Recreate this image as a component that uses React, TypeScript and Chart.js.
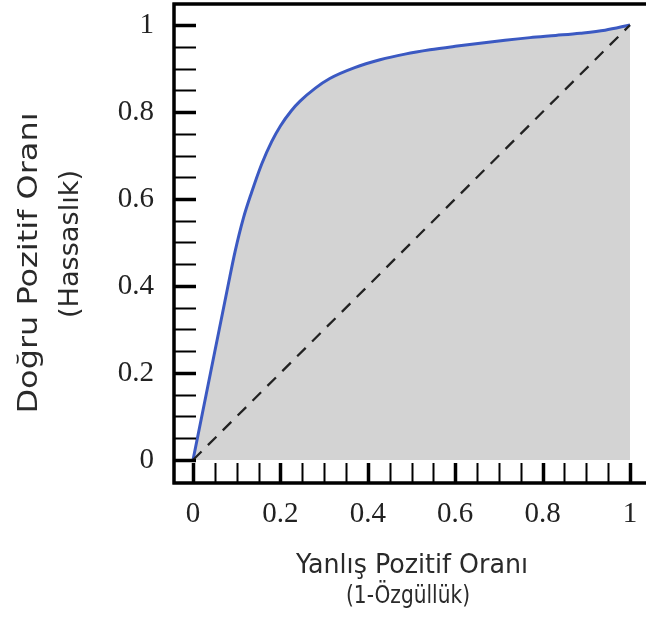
import React, { useEffect, useRef } from "react";
import { Chart, registerables } from "chart.js";

Chart.register(...registerables);

// ROC curve: false positive rate vs. true positive rate
const fpr = [0, 0.02, 0.04, 0.06, 0.08, 0.096, 0.115, 0.134, 0.157, 0.18, 0.2, 0.225, 0.245, 0.28, 0.313, 0.37, 0.428, 0.485, 0.542, 0.6, 0.657, 0.714, 0.771, 0.83, 0.886, 0.943, 1.0];
const tpr = [0, 0.1, 0.2, 0.3, 0.4, 0.478, 0.555, 0.615, 0.68, 0.732, 0.768, 0.803, 0.825, 0.855, 0.877, 0.902, 0.92, 0.933, 0.943, 0.951, 0.958, 0.965, 0.971, 0.976, 0.981, 0.988, 1.0];

// Chance line
const chanceX = [0, 1];
const chanceY = [0, 1];

// Labelled ticks and minor tick spacing
const tickValues = [0, 0.2, 0.4, 0.6, 0.8, 1];
const minorStep = 0.05;

const xTitle = ["Yanlış Pozitif Oranı", "(1-Özgüllük)"];
const yTitle = ["Doğru Pozitif Oranı", "(Hassaslık)"];

const INK = "#222222";

function drawFitted(
  ctx: CanvasRenderingContext2D,
  text: string,
  size: number,
  cx: number,
  cy: number,
  width: number,
  rotation: number
) {
  ctx.save();
  ctx.font = `${size}px "DejaVu Sans"`;
  ctx.fillStyle = "#2a2a2a";
  ctx.translate(cx, cy);
  ctx.rotate(rotation);
  const w = ctx.measureText(text).width;
  ctx.scale(width / w, 1);
  ctx.textAlign = "center";
  ctx.textBaseline = "alphabetic";
  ctx.fillText(text, 0, 0);
  ctx.restore();
}

const framePlugin = {
  id: "rocFrame",
  afterDatasetsDraw(chart: any) {
    const { ctx, chartArea } = chart;
    const xs = chart.scales.x;
    const ys = chart.scales.y;
    const { left, right, top, bottom } = chartArea;
    ctx.save();
    ctx.strokeStyle = "#000";
    ctx.lineCap = "butt";

    // inward ticks every 0.05, heavier at labelled values
    const n = Math.round(1 / minorStep);
    for (let i = 0; i <= n; i++) {
      const v = i * minorStep;
      const major = i % 4 === 0;
      ctx.lineWidth = major ? 3.5 : 2;
      const py = Math.round(ys.getPixelForValue(v)) + 0.5;
      ctx.beginPath();
      ctx.moveTo(left, py);
      ctx.lineTo(left + 22, py);
      ctx.stroke();
      const px = Math.round(xs.getPixelForValue(v)) + 0.5;
      ctx.beginPath();
      ctx.moveTo(px, bottom);
      ctx.lineTo(px, bottom - 20);
      ctx.stroke();
    }

    // axis lines and top border
    ctx.lineWidth = 3.5;
    ctx.beginPath();
    ctx.moveTo(left, top - 1.5);
    ctx.lineTo(left, bottom + 1.5);
    ctx.moveTo(left - 1.5, bottom);
    ctx.lineTo(right, bottom);
    ctx.moveTo(left - 1.5, top);
    ctx.lineTo(right, top);
    ctx.stroke();
    ctx.restore();

    // axis titles
    drawFitted(ctx, xTitle[0], 27, 412, 573, 232, 0);
    drawFitted(ctx, xTitle[1], 25.5, 408, 603, 124, 0);
    drawFitted(ctx, yTitle[0], 27, 37, 263, 301, -Math.PI / 2);
    drawFitted(ctx, yTitle[1], 27, 78, 244, 148, -Math.PI / 2);
  },
};

export default function App() {
  const canvasRef = useRef<HTMLCanvasElement | null>(null);

  useEffect(() => {
    document.body.style.margin = "0";
    const canvas = canvasRef.current;
    if (!canvas) return;

    const curve = fpr.map((x, i) => ({ x, y: tpr[i] }));
    const chance = chanceX.map((x, i) => ({ x, y: chanceY[i] }));
    const tickFont = { family: '"Liberation Serif"', size: 29 };

    const chart = new Chart(canvas, {
      type: "line",
      data: {
        datasets: [
          {
            data: curve,
            borderColor: "#3b59c2",
            borderWidth: 3,
            backgroundColor: "#d3d3d3",
            fill: "origin",
            pointRadius: 0,
            cubicInterpolationMode: "monotone",
            order: 2,
          },
          {
            data: chance,
            borderColor: "#222222",
            borderWidth: 2.3,
            borderDash: [12, 9],
            fill: false,
            pointRadius: 0,
            order: 1,
          },
        ],
      },
      options: {
        animation: false,
        responsive: false,
        events: [],
        layout: { padding: { top: 4, right: 0, bottom: 0, left: 0 }, autoPadding: false },
        plugins: { legend: { display: false }, tooltip: { enabled: false } },
        scales: {
          x: {
            type: "linear",
            min: -0.0435,
            max: 1.0366,
            grid: { display: false, drawTicks: false },
            border: { display: false },
            afterBuildTicks: (scale: any) => {
              scale.ticks = tickValues.map((value) => ({ value }));
            },
            afterFit: (scale: any) => {
              scale.height = 136;
              scale.paddingLeft = 0;
              scale.paddingRight = 0;
            },
            ticks: {
              font: tickFont,
              color: INK,
              padding: 14,
              maxRotation: 0,
              callback: (v: any) => String(Number(v)),
            },
          },
          y: {
            type: "linear",
            min: -0.0529,
            max: 1.0483,
            grid: { display: false, drawTicks: false },
            border: { display: false },
            afterBuildTicks: (scale: any) => {
              scale.ticks = tickValues.map((value) => ({ value }));
            },
            afterFit: (scale: any) => {
              scale.width = 174;
              scale.paddingTop = 0;
              scale.paddingBottom = 0;
            },
            ticks: {
              font: tickFont,
              color: INK,
              padding: 20,
              callback: (v: any) => String(Number(v)),
            },
          },
        },
      },
      plugins: [framePlugin],
    });

    return () => chart.destroy();
  }, []);

  return (
    <div style={{ width: 646, height: 619, background: "#fff" }}>
      <canvas ref={canvasRef} width={646} height={619} />
    </div>
  );
}
